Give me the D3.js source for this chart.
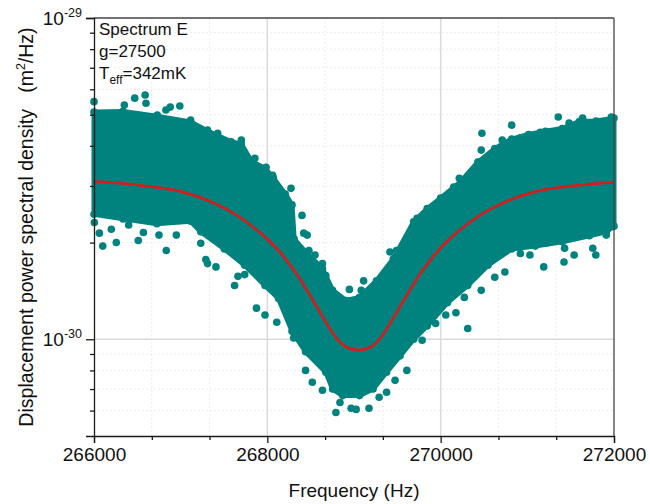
<!DOCTYPE html>
<html>
<head>
<meta charset="utf-8">
<script src="https://cdn.jsdelivr.net/npm/d3@7/dist/d3.min.js"></script>
<style>
  html, body { margin: 0; padding: 0; background: #fff; }
  svg { display: block; font-family: "Liberation Sans", Arial, sans-serif; }
</style>
</head>
<body>
<svg id="chart" width="650" height="504"></svg>
<script>
// ---------------- data ----------------
const xDomain = [266000, 272000];
const yDomain = [5e-31, 1e-29];
const xMajorTicks = [266000, 268000, 270000, 272000];
const xMinorTicks = [266667, 267333, 268667, 269333, 270667, 271333];
const yMajorTicks = [1e-29, 1e-30];
const yMajorLabels = ["-29", "-30"];
const yMinorTicks = [2e-30, 3e-30, 4e-30, 5e-30, 6e-30, 7e-30, 8e-30, 9e-30, 6e-31, 7e-31, 8e-31, 9e-31];

// upper edge of the dense scatter band [frequency Hz, PSD m^2/Hz]
const bandUpper = [
  [266000, 5.10e-30], [266335, 5.12e-30], [266725, 4.95e-30], [267115, 4.75e-30],
  [267310, 4.45e-30], [267583, 4.12e-30], [267700, 4.05e-30], [267817, 3.58e-30],
  [267973, 3.40e-30], [268070, 3.18e-30], [268207, 2.83e-30], [268285, 2.62e-30],
  [268310, 2.05e-30], [268441, 1.87e-30], [268636, 1.66e-30], [268753, 1.42e-30],
  [268908, 1.32e-30], [269064, 1.35e-30], [269259, 1.52e-30], [269454, 1.78e-30],
  [269688, 2.32e-30], [269844, 2.55e-30], [270000, 2.75e-30], [270234, 3.10e-30],
  [270429, 3.56e-30], [270624, 3.92e-30], [270819, 4.20e-30], [271014, 4.34e-30],
  [271209, 4.44e-30], [271404, 4.53e-30], [271599, 4.76e-30], [271794, 4.78e-30],
  [272000, 4.88e-30]
];
// lower edge of the dense scatter band
const bandLower = [
  [266000, 2.45e-30], [266335, 2.37e-30], [266725, 2.29e-30], [267115, 2.33e-30],
  [267232, 2.16e-30], [267505, 1.91e-30], [267739, 1.70e-30], [267973, 1.47e-30],
  [268129, 1.34e-30], [268285, 1.06e-30], [268441, 9.15e-31], [268675, 7.90e-31],
  [268753, 7.00e-31], [268870, 6.68e-31], [269064, 6.68e-31], [269220, 7.00e-31],
  [269376, 7.90e-31], [269532, 8.88e-31], [269688, 1.00e-30], [269844, 1.10e-30],
  [270078, 1.30e-30], [270312, 1.47e-30], [270546, 1.70e-30], [270819, 1.91e-30],
  [271092, 1.95e-30], [271404, 2.01e-30], [271716, 2.10e-30], [271911, 2.16e-30],
  [272000, 2.25e-30]
];
// isolated scatter points outside the dense band
const outlierFreq = [
  266000, 266350, 266470, 266590, 266600, 266880, 266990, 266830, 266730, 267115,
  267310, 267427, 267700, 267856, 267985, 268060, 268273, 268400, 268460, 268550,
  270476, 270819, 271357, 270468, 270371, 270215, 270150, 270050, 270710, 270916,
  271150, 271482, 271638, 271969, 271870,
  271540, 271755, 271790, 271911, 271209, 271320, 271430, 271030, 270920, 271189,
  271423, 270741, 270624, 270468, 270273, 270176, 270059, 270312, 269942, 269786,
  269610, 269474, 269376, 269290, 269173,
  269025, 268967, 268838, 268791, 268636, 268519, 268441, 268304, 268109, 267973,
  267875, 267622, 267661, 267739, 267407, 267310, 267290, 267232, 266834, 266511,
  266257, 266101, 266062, 266004, 266200, 266400, 266570, 266750, 266950,
  268420, 268480, 268636, 268675, 268830, 268947, 269084, 269111, 269259, 269415,
  269490, 269591, 269727
];
const outlierPSD = [
  5.49e-30, 5.36e-30, 5.63e-30, 5.76e-30, 5.43e-30, 5.28e-30, 5.32e-30, 5.17e-30, 4.99e-30, 4.81e-30,
  4.48e-30, 4.38e-30, 4.17e-30, 3.66e-30, 3.43e-30, 3.24e-30, 2.95e-30, 2.43e-30, 2.11e-30, 1.83e-30,
  4.38e-30, 4.64e-30, 4.92e-30, 3.88e-30, 3.31e-30, 3.17e-30, 2.98e-30, 2.75e-30, 4.17e-30, 4.23e-30,
  4.41e-30, 4.71e-30, 4.88e-30, 4.92e-30, 4.71e-30,
  1.83e-30, 1.92e-30, 1.83e-30, 2.11e-30, 1.99e-30, 2.03e-30, 1.92e-30, 1.83e-30, 1.85e-30, 1.68e-30,
  1.74e-30, 1.62e-30, 1.56e-30, 1.42e-30, 1.35e-30, 1.21e-30, 1.19e-30, 1.08e-30, 1.12e-30, 9.93e-31,
  8.00e-31, 7.45e-31, 6.84e-31, 6.60e-31, 6.10e-31,
  6.05e-31, 6.10e-31, 6.36e-31, 5.92e-31, 6.94e-31, 7.35e-31, 8.00e-31, 1.01e-30, 1.13e-30, 1.19e-30,
  1.25e-30, 1.47e-30, 1.57e-30, 1.59e-30, 1.68e-30, 1.72e-30, 1.77e-30, 1.99e-30, 1.89e-30, 2.03e-30,
  2.00e-30, 1.95e-30, 2.14e-30, 2.31e-30, 2.20e-30, 2.27e-30, 2.15e-30, 2.11e-30, 2.11e-30,
  2.14e-30, 1.89e-30, 1.72e-30, 1.58e-30, 1.35e-30, 1.43e-30, 1.42e-30, 1.52e-30, 1.49e-30, 1.87e-30,
  1.89e-30, 1.99e-30, 2.38e-30
];
// fitted curve (red)
const fitFreq = [266000, 266550, 267050, 267350, 267650, 267850, 268000, 268150, 268250, 268350,
  268450, 268550, 268650, 268750, 268850, 268950, 269050, 269150, 269250, 269350,
  269450, 269550, 269650, 269750, 269850, 269950, 270100, 270250, 270450, 270750,
  271050, 271550, 272000];
const fitPSD = [3.10e-30, 3.01e-30, 2.86e-30, 2.68e-30, 2.43e-30, 2.22e-30, 2.05e-30, 1.86e-30, 1.72e-30, 1.58e-30,
  1.43e-30, 1.29e-30, 1.16e-30, 1.05e-30, 9.72e-31, 9.35e-31, 9.25e-31, 9.35e-31, 9.72e-31, 1.05e-30,
  1.16e-30, 1.29e-30, 1.43e-30, 1.58e-30, 1.72e-30, 1.86e-30, 2.05e-30, 2.22e-30, 2.43e-30, 2.68e-30,
  2.86e-30, 3.01e-30, 3.08e-30];

const annoLines = ["Spectrum E", "g=27500"];
const tempLabel = {main: "T", sub: "eff", rest: "=342mK"};
const xTitle = "Frequency (Hz)";

// ---------------- drawing ----------------
const svg = d3.select("#chart");
const L = 94, R = 614, T = 18, B = 436;
const teal = "#00827f", red = "#d01f1f";
const x = d3.scaleLinear().domain(xDomain).range([L, R]);
const y = d3.scaleLog().domain(yDomain).range([B, T]);

// grid
const grid = svg.append("g");
grid.selectAll(".gxm").data(xMinorTicks).join("line")
  .attr("x1", d => x(d)).attr("x2", d => x(d)).attr("y1", T).attr("y2", B)
  .attr("stroke", "#ececec").attr("stroke-width", 1).attr("stroke-dasharray", "2,2");
grid.selectAll(".gym").data(yMinorTicks).join("line")
  .attr("y1", d => y(d)).attr("y2", d => y(d)).attr("x1", L).attr("x2", R)
  .attr("stroke", "#ececec").attr("stroke-width", 1).attr("stroke-dasharray", "2,2");
grid.selectAll(".gxM").data(xMajorTicks.slice(1, -1)).join("line")
  .attr("x1", d => x(d)).attr("x2", d => x(d)).attr("y1", T).attr("y2", B)
  .attr("stroke", "#dadada").attr("stroke-width", 1.5);
grid.selectAll(".gyM").data([1e-30]).join("line")
  .attr("y1", d => y(d)).attr("y2", d => y(d)).attr("x1", L).attr("x2", R)
  .attr("stroke", "#dadada").attr("stroke-width", 1.5);

// dense band
const poly = bandUpper.concat(bandLower.slice().reverse());
svg.append("path")
  .attr("d", d3.line().x(d => x(d[0])).y(d => y(d[1])).curve(d3.curveLinearClosed)(poly))
  .attr("fill", teal).attr("stroke", teal).attr("stroke-width", 5).attr("stroke-linejoin", "round");
// dots on the band edge vertices
svg.append("g").selectAll("circle").data(poly).join("circle")
  .attr("cx", d => x(d[0])).attr("cy", d => y(d[1])).attr("r", 3.8).attr("fill", teal);

// outlier points
svg.append("g").selectAll("circle").data(outlierFreq.map((f, i) => [f, outlierPSD[i]])).join("circle")
  .attr("cx", d => x(d[0])).attr("cy", d => y(d[1])).attr("r", 3.8).attr("fill", teal);

// fit curve
svg.append("path")
  .attr("d", d3.line().x((d, i) => x(fitFreq[i])).y((d, i) => y(fitPSD[i])).curve(d3.curveMonotoneX)(fitFreq))
  .attr("fill", "none").attr("stroke", red).attr("stroke-width", 2.8);

// frame
const ax = svg.append("g").attr("stroke-width", 1.3);
ax.append("line").attr("x1", L).attr("x2", R).attr("y1", T).attr("y2", T).attr("stroke", "#444");
ax.append("line").attr("x1", R).attr("x2", R).attr("y1", T).attr("y2", B).attr("stroke", "#444");

// bottom axis
const xAxis = d3.axisBottom(x).tickValues(xMajorTicks).tickFormat(d3.format("d")).tickSize(7).tickPadding(5);
const gx = svg.append("g").attr("transform", `translate(0,${B})`).call(xAxis);
gx.select(".domain").attr("stroke", "#1a1a1a").attr("stroke-width", 1.3);
gx.selectAll(".tick line").attr("stroke", "#1a1a1a").attr("stroke-width", 1.3);
gx.selectAll(".tick text").attr("font-size", 19).attr("fill", "#111")
  .attr("font-family", "'Liberation Sans', Arial, sans-serif");
const gxm = svg.append("g").attr("transform", `translate(0,${B})`)
  .call(d3.axisBottom(x).tickValues(xMinorTicks).tickSize(4).tickFormat(""));
gxm.select(".domain").remove();
gxm.selectAll(".tick line").attr("stroke", "#1a1a1a").attr("stroke-width", 1.3);

// left axis
const yAxis = d3.axisLeft(y).tickValues(yMajorTicks).tickSize(8).tickFormat("");
const gy = svg.append("g").attr("transform", `translate(${L},0)`).call(yAxis);
gy.select(".domain").attr("stroke", "#1a1a1a").attr("stroke-width", 1.3);
gy.selectAll(".tick line").attr("stroke", "#1a1a1a").attr("stroke-width", 1.3);
const gym = svg.append("g").attr("transform", `translate(${L},0)`)
  .call(d3.axisLeft(y).tickValues(yMinorTicks).tickSize(4).tickFormat(""));
gym.select(".domain").remove();
gym.selectAll(".tick line").attr("stroke", "#1a1a1a").attr("stroke-width", 1.3);

// y tick labels 10^n
yMajorTicks.forEach((v, i) => {
  const t = svg.append("text").attr("x", 82).attr("y", y(v) + 7)
    .attr("text-anchor", "end").attr("font-size", 19).attr("fill", "#111");
  t.append("tspan").text("10");
  t.append("tspan").attr("font-size", 12.5).attr("dy", -8).text(yMajorLabels[i]);
});

// axis titles
svg.append("text").attr("x", (L + R) / 2).attr("y", 497).attr("text-anchor", "middle")
  .attr("font-size", 19).attr("fill", "#111").text(xTitle);
const yt = svg.append("text").attr("transform", `translate(33,${(T + B) / 2}) rotate(-90)`)
  .attr("text-anchor", "middle").attr("font-size", 19.5).attr("fill", "#111")
  .attr("xml:space", "preserve").style("white-space", "pre");
yt.append("tspan").text("Displacement power spectral density   (m");
yt.append("tspan").attr("font-size", 12.5).attr("dy", -8).text("2");
yt.append("tspan").attr("dy", 8).text("/Hz)");

// annotation
const ann = svg.append("g").attr("font-size", 17).attr("fill", "#111");
annoLines.forEach((s, i) => {
  ann.append("text").attr("x", 99).attr("y", 35 + i * 22).text(s);
});
const tt = ann.append("text").attr("x", 99).attr("y", 79);
tt.append("tspan").text(tempLabel.main);
tt.append("tspan").attr("font-size", 12).attr("dy", 5).text(tempLabel.sub);
tt.append("tspan").attr("dy", -5).text(tempLabel.rest);
</script>
</body>
</html>
